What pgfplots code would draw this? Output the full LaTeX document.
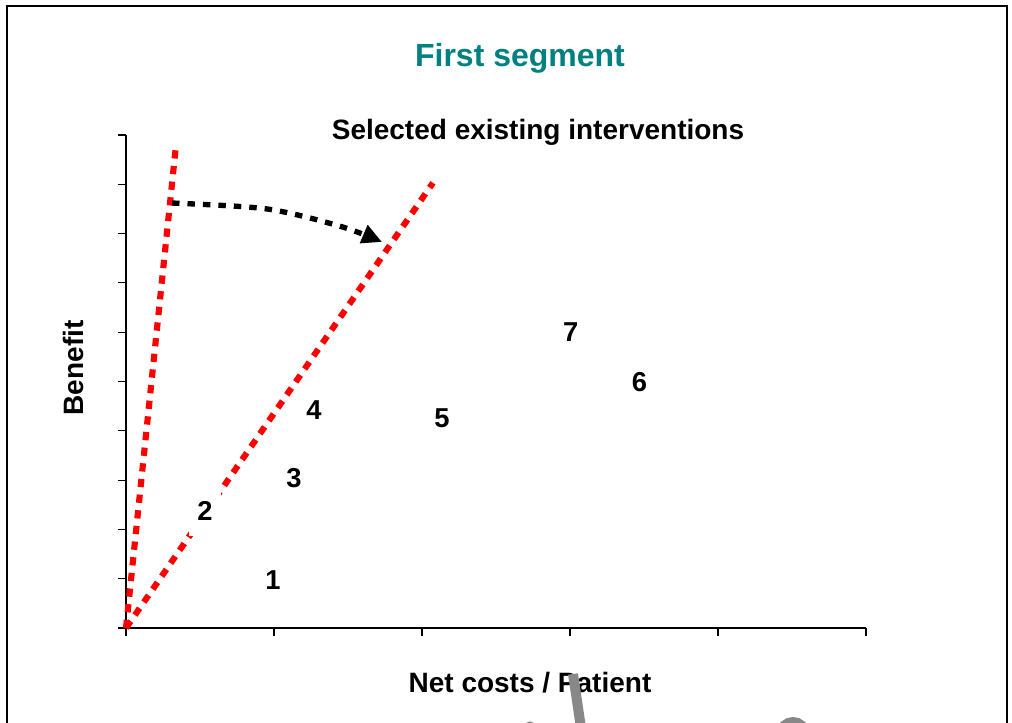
\documentclass[border=0pt]{standalone}
\usepackage{fontspec}
\setmainfont{Liberation Sans}
\usepackage{pgfplots}
\pgfplotsset{compat=1.18}
\usetikzlibrary{arrows.meta}
\definecolor{teal1}{RGB}{0,128,128}
\definecolor{wmgray}{RGB}{136,136,136}

\pgfplotstableread{
x y label
0.993 0.97 1
0.534 2.38 2
1.135 3.05 3
1.270 4.43 4
2.135 4.25 5
3.470 4.99 6
3.005 6.01 7
}\labeldata

\begin{document}
\begin{tikzpicture}
\useasboundingbox (-94.5pt,-70.5pt) rectangle (664.5pt,471pt);
\begin{axis}[
  at={(0pt,0pt)}, anchor=origin,
  scale only axis, width=555pt, height=369.75pt,
  xmin=0, xmax=5, ymin=0, ymax=10,
  axis x line*=bottom, axis y line*=left,
  xtick={0,1,2,3,4,5}, ytick={0,1,2,3,4,5,6,7,8,9,10},
  xticklabels={}, yticklabels={},
  tick align=outside, major tick length=6pt,
  every tick/.style={black, line width=0.8pt},
  x axis line style={line width=1.4pt, -},
  y axis line style={line width=0.9pt, -},
  clip=false,
]
\addplot[red, line width=4.6pt, dash pattern=on 6.2pt off 5.6pt] coordinates {(0,0) (0.338,9.80)};
\addplot[red, line width=4.6pt, dash pattern=on 6.2pt off 5.6pt] coordinates {(0,0) (2.074,9.03)};
\addplot[draw=none, mark=none, nodes near coords, point meta=explicit symbolic,
  nodes near coords style={anchor=center, fill=white, text=black,
    font=\fontsize{20.5}{24}\selectfont\bfseries, inner xsep=6pt, inner ysep=12pt}]
  table[x=x, y=y, meta=label] {\labeldata};
\addplot[black, line width=4pt, dash pattern=on 5.6pt off 6pt, smooth,
  -{Triangle[length=15pt,width=14pt]}]
  coordinates {(0.311,8.62) (0.953,8.50) (1.446,8.15) (1.730,7.83)};
\end{axis}
\node[anchor=base, text=teal1, font=\fontsize{24}{28}\selectfont\bfseries] at (295.5pt,420.75pt) {First segment};
\node[anchor=base, font=\fontsize{21}{25}\selectfont\bfseries] at (309pt,366pt) {Selected existing interventions};
\node[anchor=base, font=\fontsize{21}{25}\selectfont\bfseries] at (303pt,-48pt) {Net costs / Patient};
\node[anchor=base, rotate=90, font=\fontsize{21}{25}\selectfont\bfseries] at (-31.5pt,195pt) {Benefit};
% watermark fragments
\draw[wmgray, line width=7.5pt] (335.25pt,-34.5pt) -- (342pt,-80pt);
\draw[wmgray, line width=6pt] (500.25pt,-79.5pt) circle (9.75pt);
\fill[wmgray] (303pt,-74pt) circle (4pt);
% frame
\draw[black, line width=1.5pt] (-88.9pt,-110pt) -- (-88.9pt,466.5pt) -- (660.75pt,466.5pt) -- (660.75pt,-110pt);
\end{tikzpicture}
\end{document}
